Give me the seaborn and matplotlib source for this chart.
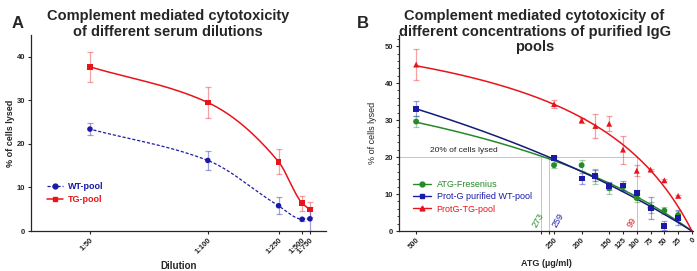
"""Complement mediated cytotoxicity: serum dilutions (A) and purified IgG pools (B)"""

import numpy as np
import pandas as pd
from matplotlib import pyplot as plt
from matplotlib.lines import Line2D
from matplotlib.ticker import MultipleLocator
import seaborn as sns

# --- panel A: serum dilutions ---
dilutions = [50, 100, 250, 500, 750]
dilution_labels = ["1:50", "1:100", "1:250", "1:500", "1:750"]
wt_lysed = [23.4, 16.2, 5.8, 2.7, 2.8]
wt_err = [1.4, 2.1, 2.0, 0.3, 2.8]
tg_lysed = [37.7, 29.5, 15.9, 6.4, 4.9]
tg_err = [3.4, 3.5, 2.9, 1.7, 1.7]

# --- panel B: purified IgG pools ---
atg_conc = [500, 250, 200, 175, 150, 125, 100, 75, 50, 25]
fres_lysed = [29.6, 17.8, 17.8, 14.8, 11.6, 11.9, 8.9, 6.3, 5.5, 4.3]
fres_err = [1.5, 0.7, 1.5, 2.0, 1.5, 1.0, 1.0, 1.5, 1.0, 1.0]
wtpool_lysed = [33.1, 19.7, 14.2, 14.9, 12.2, 12.3, 10.2, 6.3, 1.4, 3.6]
wtpool_err = [2.0, 0.5, 1.4, 1.5, 1.0, 1.2, 1.0, 3.0, 1.2, 2.0]
tgpool_lysed = [45.0, 34.3, 29.9, 28.4, 29.0, 22.0, 16.3, 16.6, 13.7, 9.5]
tgpool_err = [4.3, 1.0, 0.7, 3.2, 2.0, 3.8, 1.5, 0.3, 0.3, 0.3]
atg_ticks = [500, 250, 200, 150, 125, 100, 75, 50, 25, 0]
cut_conc = [273, 259, 99]  # concentration giving 20 % lysis

RED = "#e8141c"
BLUE = "#1a1aa6"
NAVY = "#141a78"
GREEN = "#27892a"


def pchip(x, y, xs):
    # monotone cubic through the points (smooth connecting curve)
    x = np.asarray(x, float)
    y = np.asarray(y, float)
    o = np.argsort(x)
    x, y = x[o], y[o]
    h = np.diff(x)
    d = np.diff(y) / h
    m = np.zeros_like(x)
    for k in range(1, len(x) - 1):
        if d[k - 1] * d[k] > 0:
            w1 = 2 * h[k] + h[k - 1]
            w2 = h[k] + 2 * h[k - 1]
            m[k] = (w1 + w2) / (w1 / d[k - 1] + w2 / d[k])
    m[0] = d[0]
    m[-1] = d[-1]
    idx = np.clip(np.searchsorted(x, xs) - 1, 0, len(h) - 1)
    t = (xs - x[idx]) / h[idx]
    h00 = 2 * t**3 - 3 * t**2 + 1
    h10 = t**3 - 2 * t**2 + t
    h01 = -2 * t**3 + 3 * t**2
    h11 = t**3 - t**2
    return h00 * y[idx] + h10 * h[idx] * m[idx] + h01 * y[idx + 1] + h11 * h[idx] * m[idx + 1]


def hyperbola_fit(x, y):
    # least squares fit of y = vmax * x / (k + x)
    x = np.asarray(x, float)
    y = np.asarray(y, float)
    best = None
    for k in np.geomspace(5, 20000, 4000):
        g = x / (k + x)
        v = (y * g).sum() / (g * g).sum()
        sse = ((y - v * g) ** 2).sum()
        if best is None or sse < best[0]:
            best = (sse, v, k)
    return best[1], best[2]


def plot_dilutions(ax):
    serum = 100 / np.array(dilutions)
    xs = np.linspace(serum.min(), serum.max(), 300)
    df = pd.DataFrame(
        {
            "serum": np.concatenate([serum, serum]),
            "lysed": wt_lysed + tg_lysed,
            "pool": ["WT-pool"] * 5 + ["TG-pool"] * 5,
        }
    )
    ax.plot(xs, pchip(serum, tg_lysed, xs), color=RED, lw=1.1)
    ax.plot(xs, pchip(serum, wt_lysed, xs), color=BLUE, lw=0.9, ls=(0, (2.5, 1.5)))
    ax.errorbar(serum, tg_lysed, yerr=tg_err, fmt="none", ecolor=RED, alpha=0.4,
                elinewidth=0.9, capsize=2.2, capthick=0.9)
    ax.errorbar(serum, wt_lysed, yerr=wt_err, fmt="none", ecolor=BLUE, alpha=0.4,
                elinewidth=0.9, capsize=2.2, capthick=0.9)
    sns.scatterplot(data=df, x="serum", y="lysed", hue="pool", style="pool",
                    palette={"WT-pool": BLUE, "TG-pool": RED},
                    markers={"WT-pool": "o", "TG-pool": "s"},
                    s=16, linewidth=0, legend=False, ax=ax, zorder=3)

    ax.set_xlim(2.5, 0)
    ax.set_ylim(0, 45)
    ax.set_xticks(serum)
    ax.set_xticklabels(dilution_labels, rotation=45, ha="right",
                       rotation_mode="anchor", fontweight="bold")
    ax.set_yticks([0, 10, 20, 30, 40])
    ax.tick_params(labelsize=5.5, length=2.5, width=0.8, pad=1.5)
    for lab in ax.get_yticklabels():
        lab.set_fontweight("bold")
    ax.set_xlabel("Dilution", fontsize=7, fontweight="bold", labelpad=4)
    ax.set_ylabel("% of cells lysed", fontsize=6.5, fontweight="bold", labelpad=1.5)

    handles = [
        Line2D([], [], color=BLUE, marker="o", ms=3.5, lw=0.9, ls=(0, (2.5, 1.5))),
        Line2D([], [], color=RED, marker="s", ms=3.5, lw=1.1),
    ]
    ax.legend(handles, ["WT-pool", "TG-pool"], loc="upper left",
              bbox_to_anchor=(0.025, 0.29), frameon=False, handlelength=1.8,
              handletextpad=0.6, labelspacing=0.4, labelcolor=[BLUE, RED],
              prop={"size": 6.5, "weight": "bold"})


def plot_concentrations(ax):
    conc = np.array(atg_conc, float)
    series = [
        ("ATG-Fresenius", fres_lysed, fres_err, GREEN, "o", GREEN),
        ("Prot-G purified WT-pool", wtpool_lysed, wtpool_err, BLUE, "s", NAVY),
        ("ProtG-TG-pool", tgpool_lysed, tgpool_err, RED, "^", RED),
    ]
    df = pd.concat(
        [pd.DataFrame({"conc": conc, "lysed": y, "pool": name})
         for name, y, _, _, _, _ in series]
    )
    xs = np.linspace(0, conc.max(), 300)

    # 20 % guide lines
    grey = "#777777"
    ax.plot([535, cut_conc[2]], [20, 20], color=grey, lw=0.6, ls=(0, (1.2, 1.2)))
    for c in cut_conc:
        ax.plot([c, c], [0, 20], color=grey, lw=0.6, ls=(0, (1.2, 1.2)))
    ax.text(475, 20.8, "20% of cells lysed", fontsize=6, color="#222222",
            ha="left", va="bottom")

    for name, y, err, col, mk, lcol in series:
        v, k = hyperbola_fit(conc, y)
        ax.plot(xs, v * xs / (k + xs), color=lcol, lw=1.1)
        ax.errorbar(conc, y, yerr=err, fmt="none", ecolor=col, alpha=0.4,
                    elinewidth=0.9, capsize=2.2, capthick=0.9)

    sns.scatterplot(data=df, x="conc", y="lysed", hue="pool", style="pool",
                    palette={s[0]: s[3] for s in series},
                    markers={s[0]: s[4] for s in series},
                    s=18, linewidth=0, legend=False, ax=ax, zorder=3)

    for c, col, dx in zip(cut_conc, [GREEN, BLUE, RED], [6, -16, 10]):
        ax.text(c + dx, 0.6, str(c), color=col, fontsize=6.5, rotation=60,
                ha="center", va="bottom")

    ax.set_xlim(531, -2)
    ax.set_ylim(0, 53)
    ax.set_xticks(atg_ticks)
    ax.set_xticks(cut_conc[:2], minor=True)
    ax.set_xticklabels([str(t) for t in atg_ticks], rotation=45, ha="right",
                       rotation_mode="anchor", fontweight="bold")
    ax.set_yticks([0, 10, 20, 30, 40, 50])
    ax.yaxis.set_minor_locator(MultipleLocator(2))
    ax.tick_params(labelsize=5.5, length=2.5, width=0.8, pad=1.5)
    ax.tick_params(which="minor", length=1.5, width=0.6)
    ax.tick_params(axis="x", which="minor", length=2.5, width=0.8)
    for lab in ax.get_yticklabels():
        lab.set_fontweight("bold")
    ax.set_xlabel("ATG (\u00b5g/ml)", fontsize=6.5, fontweight="bold", labelpad=6)
    ax.set_ylabel("% of cells lysed", fontsize=6.5, labelpad=6)

    handles = [
        Line2D([], [], color=GREEN, marker="o", ms=3.5, lw=1.0),
        Line2D([], [], color=BLUE, marker="s", ms=3.5, lw=1.0),
        Line2D([], [], color=RED, marker="^", ms=3.5, lw=1.0),
    ]
    ax.legend(handles, [s[0] for s in series], loc="upper left",
              bbox_to_anchor=(0.02, 0.3), frameon=False, handlelength=2.0,
              handletextpad=0.6, labelspacing=0.35, labelcolor=[GREEN, BLUE, RED],
              prop={"size": 6.5})


def main():
    sns.set_style("ticks")
    plt.rcParams["font.family"] = ["Liberation Sans", "DejaVu Sans"]
    plt.rcParams["axes.linewidth"] = 0.9

    fig = plt.figure(figsize=(6.97, 2.71), dpi=100)
    ax_a = fig.add_axes([0.0445, 0.1476, 0.4228, 0.7232])
    ax_b = fig.add_axes([0.5725, 0.1476, 0.4218, 0.7232])

    plot_dilutions(ax_a)
    plot_concentrations(ax_b)
    for ax in (ax_a, ax_b):
        sns.despine(ax=ax)

    fig.text(0.241, 0.965, "Complement mediated cytotoxicity\nof different serum dilutions",
             ha="center", va="top", fontsize=10.5, fontweight="bold", linespacing=1.1)
    fig.text(0.767, 0.965,
             "Complement mediated cytotoxicity of\ndifferent concentrations of purified IgG\npools",
             ha="center", va="top", fontsize=10.5, fontweight="bold", linespacing=1.1)
    fig.text(0.016, 0.897, "A", fontsize=12, fontweight="bold")
    fig.text(0.512, 0.897, "B", fontsize=12, fontweight="bold")

    fig.savefig("out.png", dpi=100)


if __name__ == "__main__":
    main()
